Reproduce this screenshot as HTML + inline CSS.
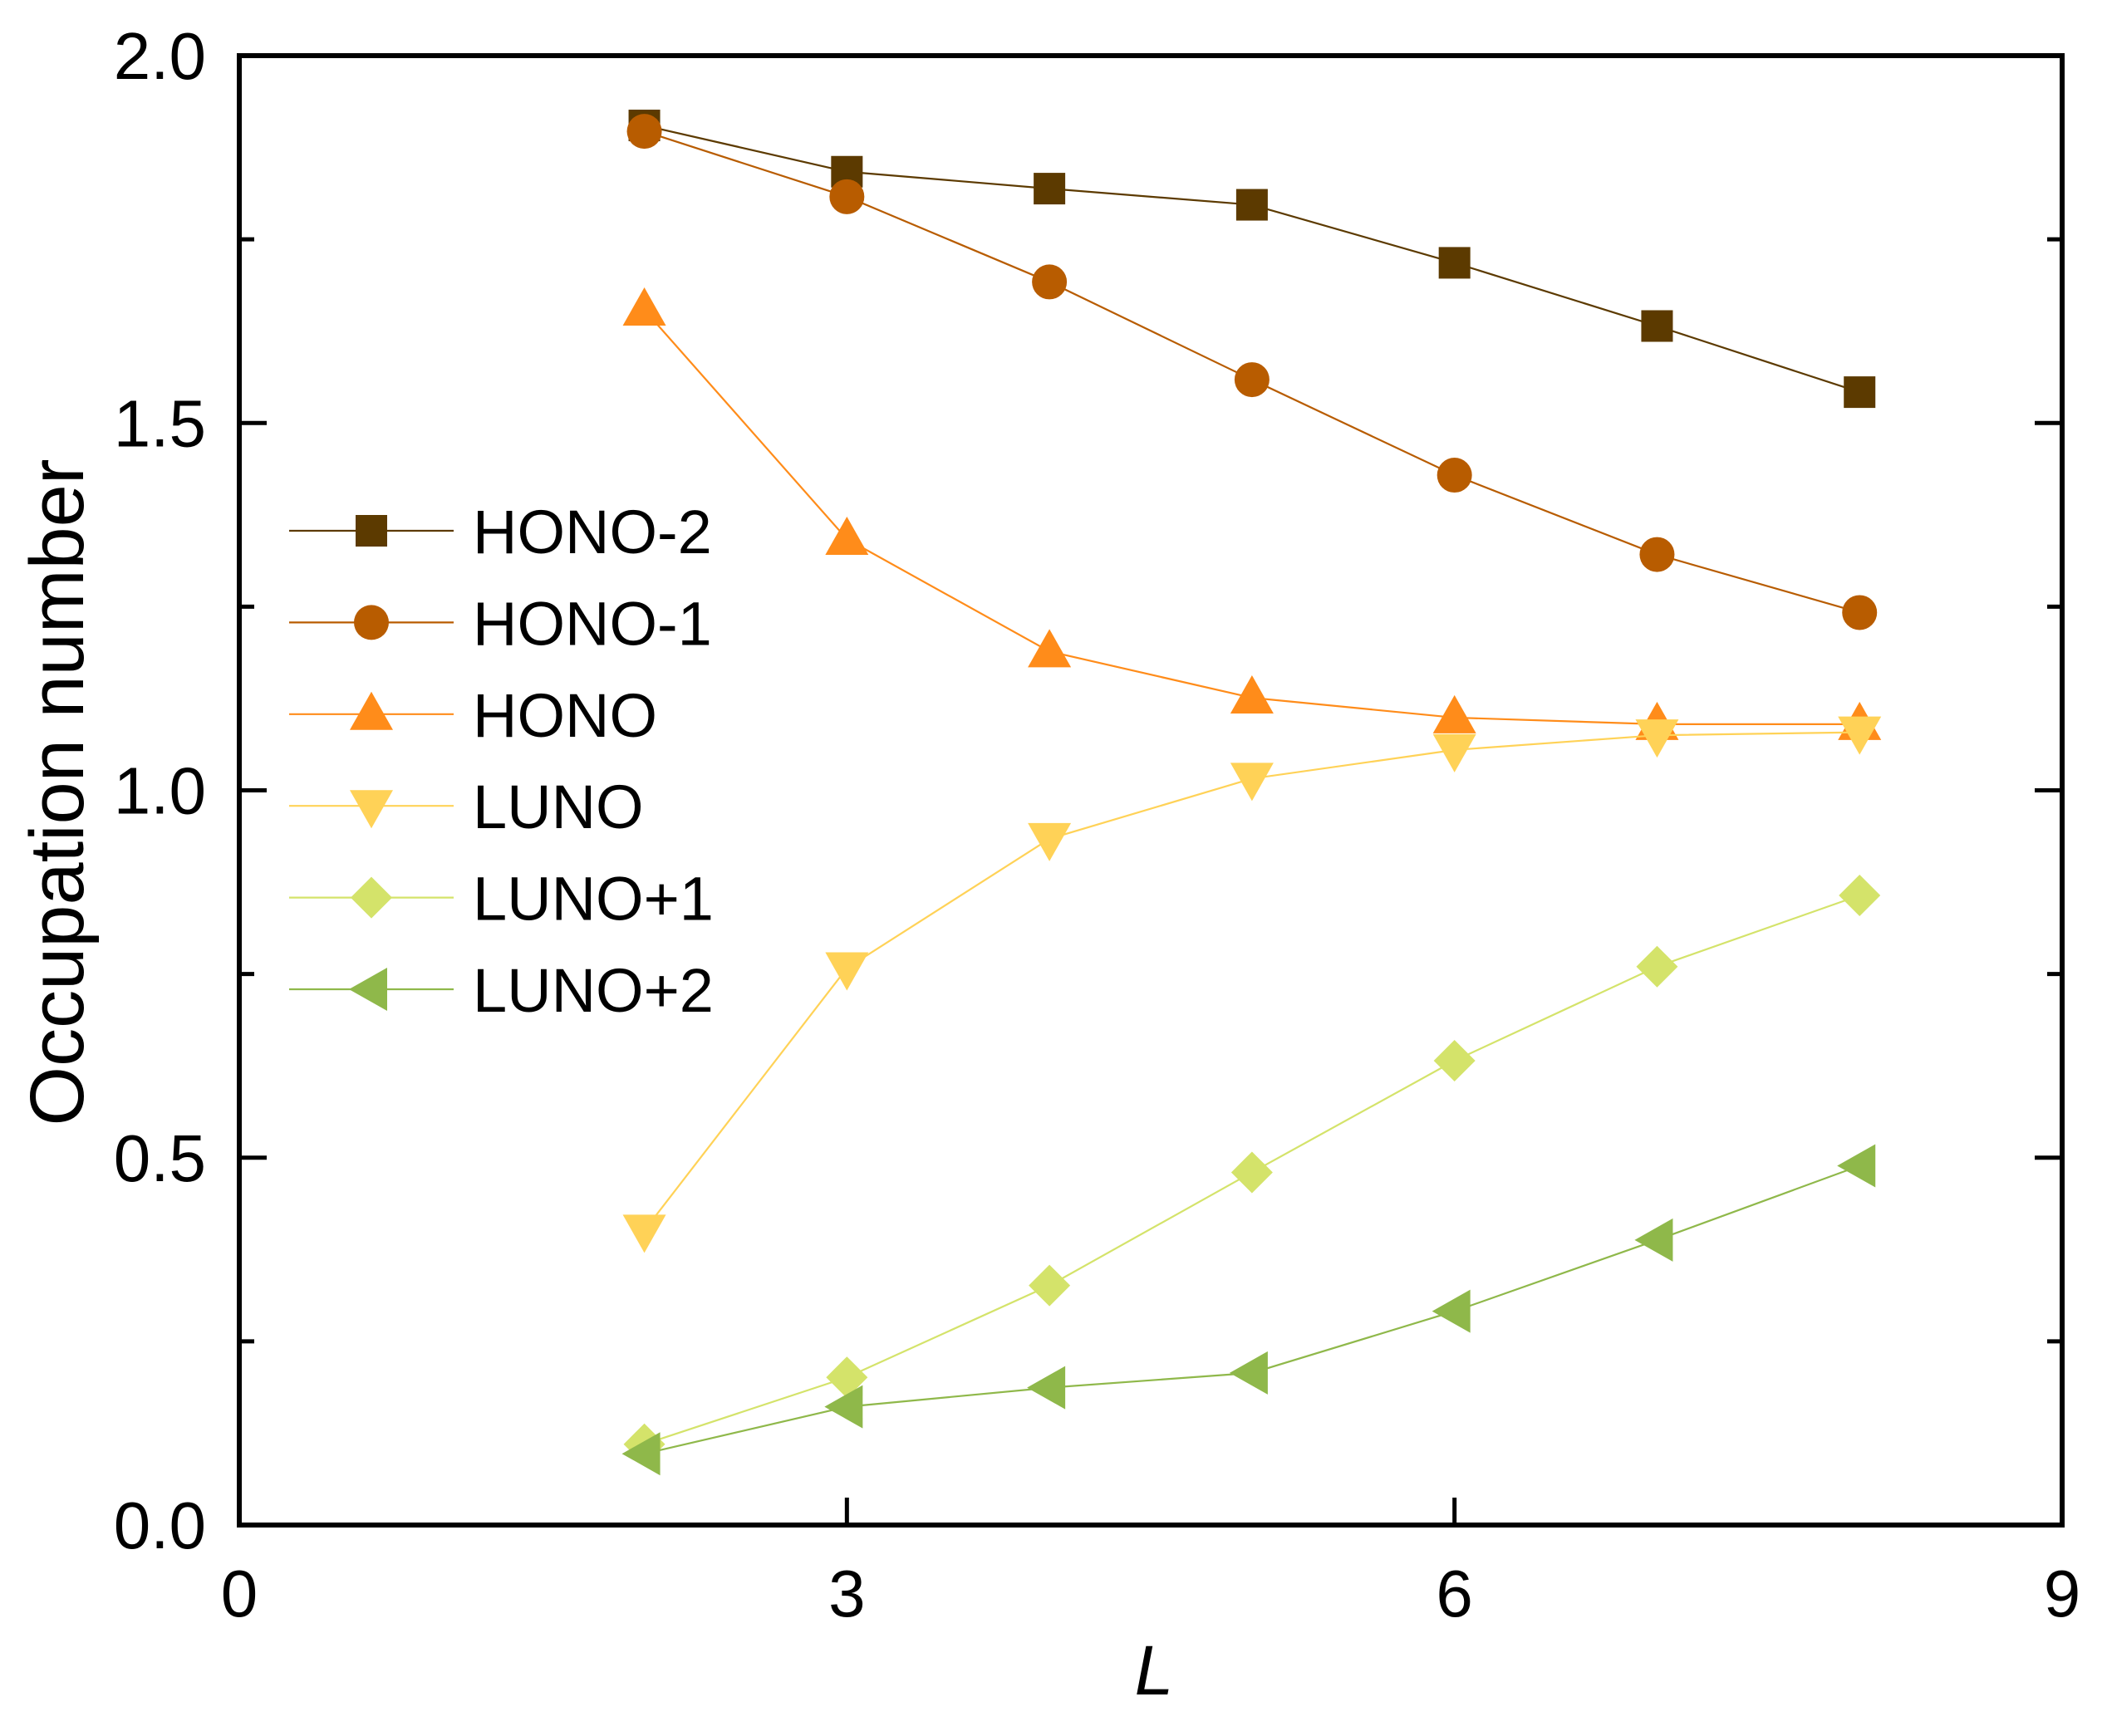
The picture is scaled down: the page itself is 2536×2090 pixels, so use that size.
<!DOCTYPE html>
<html><head><meta charset="utf-8"><style>
html,body{margin:0;padding:0;background:#fff;}
svg{display:block;}
text{font-family:"Liberation Sans","DejaVu Sans",sans-serif;fill:#000;}
</style></head><body>
<svg id="chart" width="2536" height="2090" viewBox="0 0 2536 2090">
<g id="series"></g>
<g id="axes"></g>
<g id="legend"></g>
</svg>
<script>
const xValues = [2,3,4,5,6,7,8];
const seriesNames = ["HONO-2","HONO-1","HONO","LUNO","LUNO+1","LUNO+2"];
const hono2 = [1.905,1.842,1.819,1.797,1.718,1.632,1.542];
const hono1 = [1.897,1.808,1.692,1.559,1.429,1.321,1.242];
const hono  = [1.654,1.342,1.189,1.126,1.099,1.090,1.090];
const luno  = [0.401,0.758,0.934,1.016,1.055,1.075,1.079];
const luno1 = [0.110,0.201,0.326,0.480,0.632,0.760,0.857];
const luno2 = [0.097,0.161,0.187,0.207,0.291,0.388,0.489];
const xTicks = [0,3,6,9];
const yTicks = [0.0,0.5,1.0,1.5,2.0];
const yTickLabels = ["0.0","0.5","1.0","1.5","2.0"];

const L=288,R=2482,T=67,B=1836;
const xs=v=>L+(v-0)/9*(R-L);
const ys=v=>B-(v-0)/2*(B-T);
const NS="http://www.w3.org/2000/svg";
function mk(tag,attrs,parent){const e=document.createElementNS(NS,tag);for(const k in attrs)e.setAttribute(k,attrs[k]);parent.appendChild(e);return e;}
const seriesData=[hono2,hono1,hono,luno,luno1,luno2];
const colors=["#5c3a00","#b85c00","#ff8c1a","#ffd257","#d4e36a","#8fb84a"];
const shapes=["square","circle","up","down","diamond","left"];
function marker(shape,cx,cy,col,parent){
  let e;
  if(shape==="square") e=mk("rect",{x:cx-19,y:cy-19,width:38,height:38,fill:col},parent);
  else if(shape==="circle") e=mk("circle",{cx:cx,cy:cy,r:21,fill:col},parent);
  else if(shape==="up") e=mk("polygon",{points:`${cx},${cy-27} ${cx+26},${cy+19} ${cx-26},${cy+19}`,fill:col},parent);
  else if(shape==="down") e=mk("polygon",{points:`${cx},${cy+27} ${cx+26},${cy-19} ${cx-26},${cy-19}`,fill:col},parent);
  else if(shape==="diamond") e=mk("polygon",{points:`${cx},${cy-25} ${cx+25},${cy} ${cx},${cy+25} ${cx-25},${cy}`,fill:col},parent);
  else e=mk("polygon",{points:`${cx-27},${cy} ${cx+19},${cy-26} ${cx+19},${cy+26}`,fill:col},parent);
  return e;
}
const sg=document.getElementById("series");
seriesData.forEach((d,i)=>{
  const g=mk("g",{},sg);
  
  
  const pts=d.map((v,j)=>xs(xValues[j])+","+ys(v)).join(" ");
  const pl=mk("polyline",{points:pts,fill:"none",stroke:colors[i],"stroke-width":2.2},g);
  
  
  d.forEach((v,j)=>{
    const m=marker(shapes[i],xs(xValues[j]),ys(v),colors[i],g);
    
    
  });
});
const ax=document.getElementById("axes");
const frame=mk("rect",{x:L,y:T,width:R-L,height:B-T,fill:"none",stroke:"#000","stroke-width":6},ax);


for(let v=0;v<=2.0001;v+=0.25){
  const major=Math.abs(v*2-Math.round(v*2))<1e-6;
  const len=major?33:18;
  const y=ys(v);
  const t1=mk("line",{x1:L,x2:L+len,y1:y,y2:y,stroke:"#000","stroke-width":5},ax);
  
  
  const t2=mk("line",{x1:R,x2:R-len,y1:y,y2:y,stroke:"#000","stroke-width":5},ax);
  
  
}
yTicks.forEach((v,i)=>{
  const t=mk("text",{x:248,y:ys(v)+28,"font-size":80,"text-anchor":"end"},ax);
  t.textContent=yTickLabels[i];
  
  
});
xTicks.forEach(v=>{
  const x=xs(v);
  if(v>0&&v<9){
    const t=mk("line",{x1:x,x2:x,y1:B,y2:B-33,stroke:"#000","stroke-width":5},ax);
    
    
  }
  const l=mk("text",{x:x,y:1946,"font-size":80,"text-anchor":"middle"},ax);
  l.textContent=String(v);
  
  
});
const xt=mk("text",{x:1389,y:2040,"font-size":84,"font-style":"italic","text-anchor":"middle"},ax);
xt.textContent="L";


const yt=mk("text",{x:0,y:0,"font-size":92,"text-anchor":"middle",transform:"translate(100,954) rotate(-90)"},ax);
yt.textContent="Occupation number";


const lg=document.getElementById("legend");
seriesNames.forEach((n,i)=>{
  const y=639+i*110.4;
  const g=mk("g",{},lg);
  
  
  mk("line",{x1:348,x2:546,y1:y,y2:y,stroke:colors[i],"stroke-width":2.2},g);
  marker(shapes[i],447,y,colors[i],g);
  const t=mk("text",{x:569,y:y+27,"font-size":74},g);
  t.textContent=n;
});
</script>
</body></html>
